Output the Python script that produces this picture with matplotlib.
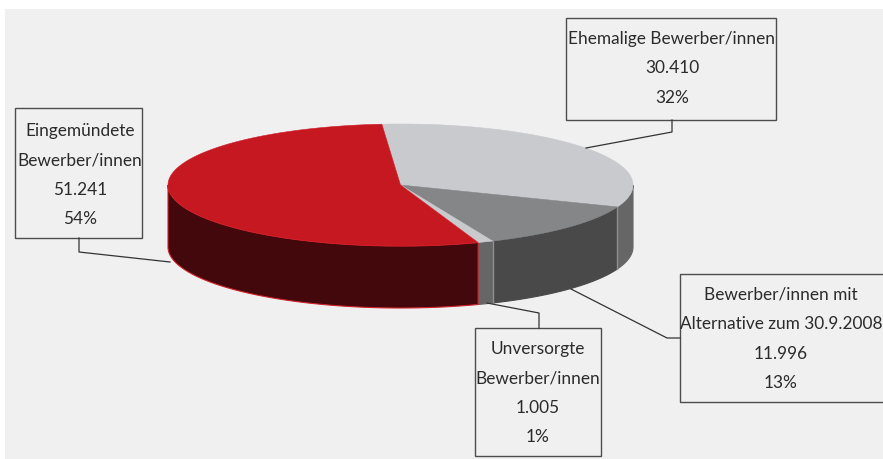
# -*- coding: utf-8 -*-
import numpy as np
import matplotlib
matplotlib.use('Agg')
import matplotlib.pyplot as plt
from matplotlib.patches import Polygon, Rectangle

# data from the picture, clockwise from the top
names = ['Ehemalige Bewerber/innen', 'Bewerber/innen mit\nAlternative zum 30.9.2008',
         'Unversorgte\nBewerber/innen', 'Eingemündete\nBewerber/innen']
values = [30410, 11996, 1005, 51241]
value_labels = ['30.410', '11.996', '1.005', '51.241']
percent_labels = ['32%', '13%', '1%', '54%']

top_colors = ['#c9cace', '#858687', '#c9cace', '#c61821']
side_colors = ['#666666', '#4a4949', '#666666', '#43080c']
edge_colors = ['#c9cace', '#858687', '#c9cace', '#d0202a']

plt.rcParams['font.family'] = ['Lato', 'DejaVu Sans']

W, H = 883, 459
fig = plt.figure(figsize=(W / 100, H / 100), dpi=100, facecolor='white')
ax = fig.add_axes([0, 0, 1, 1])
ax.set_xlim(0, W)
ax.set_ylim(H, 0)
ax.axis('off')

ax.add_patch(Rectangle((5, 9), W - 5, H - 9, fc='#f0f0f0', ec='none', zorder=0))

# pie geometry in pixels
cx, cy = 400.5, 185
a, b = 232.5, 61
depth = 62
start = -4.6


def rim(t1, t2, dy=0):
    t = np.radians(np.linspace(t1, t2, 200))
    return np.column_stack([cx + a * np.sin(t), cy + dy - b * np.cos(t)])


angles = start + np.concatenate([[0], np.cumsum(values)]) / sum(values) * 360

# sides first, only the front half shows
for i in range(len(values)):
    t1 = max(angles[i], 90)
    t2 = min(angles[i + 1], 270)
    if t2 <= t1:
        continue
    pts = np.vstack([rim(t1, t2), rim(t1, t2, depth)[::-1]])
    ax.add_patch(Polygon(pts, closed=True, fc=side_colors[i], ec=edge_colors[i] if i == 3 else side_colors[i],
                         lw=0.8, zorder=2))

# light dividers between side faces
for t in angles[1:3]:
    p = rim(t, t)[0]
    ax.plot([p[0], p[0]], [p[1], p[1] + depth], color='#8f8f90', lw=1.0, zorder=3)

# top
for i in range(len(values)):
    pts = np.vstack([[[cx, cy]], rim(angles[i], angles[i + 1])])
    ax.add_patch(Polygon(pts, closed=True, fc=top_colors[i], ec=edge_colors[i], lw=0.4, zorder=4))

# label boxes: x0, y0, x1, y1, text centre, first line y
boxes = [(566, 18, 776, 120, 672, 39),
         (680, 274, 890, 402, 781, 295),
         (475, 328, 601, 456, 538, 349),
         (15, 108, 142, 238, 80, 131)]
leaders = [([586, 672, 672], [148, 132, 120]),
           ([571, 667, 680], [289, 338, 338]),
           ([487, 539, 539], [303, 313, 328]),
           ([170, 79, 79], [262, 252, 238])]

for i, (x0, y0, x1, y1, tx, ty) in enumerate(boxes):
    ax.add_patch(Rectangle((x0, y0), x1 - x0, y1 - y0, fc='none', ec='#4d4d4d', lw=1.0, zorder=5))
    ax.plot(leaders[i][0], leaders[i][1], color='#333333', lw=0.9, zorder=5)
    lines = names[i].split('\n') + [value_labels[i], percent_labels[i]]
    for j, line in enumerate(lines):
        ax.text(tx, ty + j * 29.3, line, ha='center', va='center', fontsize=12.4,
                color='#2b2b2b', zorder=6)

fig.savefig('out.png', dpi=100, facecolor='white')
